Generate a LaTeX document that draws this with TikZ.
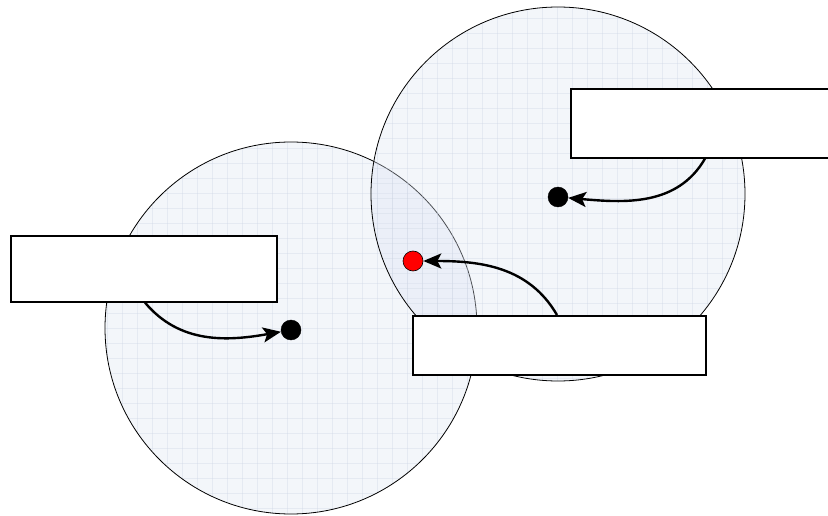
\documentclass[tikz,border=0pt]{standalone}
\usetikzlibrary{arrows.meta,calc}
\definecolor{discfill}{RGB}{220,228,242}
\definecolor{gridcol}{RGB}{200,208,225}
\tikzset{
  gridlines/.style={draw=gridcol, line width=0.5pt, opacity=0.3},
  labelbox/.style={draw=black, line width=1.6pt, fill=white, rectangle, inner sep=0pt},
  dot/.style={circle, fill=black, draw=black, minimum size=20pt, inner sep=0pt},
  reddot/.style={circle, fill=red, draw=black, line width=0.6pt, minimum size=20pt, inner sep=0pt},
  link/.style={line width=2.4pt, -{Stealth[length=18pt,width=15pt,inset=4pt]}}
}
\begin{document}
\begin{tikzpicture}[x=1pt,y=-1pt]
  \useasboundingbox (0,0) rectangle (828,516);
  \clip (0,0) rectangle (828,516);
  % left disc with its fine grid
  \begin{scope}
    \clip (291,328) circle (186);
    \fill[discfill, opacity=0.35] (291,328) circle (186);
    \foreach \gx in {92,107,...,482} \draw[gridlines] (\gx,130) -- (\gx,520);
    \foreach \gy in {133,148,...,518} \draw[gridlines] (100,\gy) -- (480,\gy);
  \end{scope}
  \draw[line width=0.8pt] (291,328) circle (186);
  % right disc, translucent over the left one
  \begin{scope}
    \clip (558,194) circle (187);
    \fill[discfill, opacity=0.35] (558,194) circle (187);
    \foreach \gx in {362,377,...,752} \draw[gridlines] (\gx,0) -- (\gx,390);
    \foreach \gy in {3,18,...,388} \draw[gridlines] (365,\gy) -- (750,\gy);
  \end{scope}
  \draw[line width=0.8pt] (558,194) circle (187);

  % points
  \node[dot] (p1) at (558,197) {};
  \node[dot] (p2) at (291,330) {};
  \node[reddot] (p3) at (413,261) {};

  % label boxes
  \node[labelbox, minimum width=264pt, minimum height=69pt, anchor=north west] (b1) at (570,88) {};
  \node[labelbox, minimum width=266pt, minimum height=66pt, anchor=north west] (b2) at (10,235) {};
  \node[labelbox, minimum width=293pt, minimum height=59pt, anchor=north west] (b3) at (412,315) {};

  % connectors
  \coordinate (s1) at ($(b1.south west)+(135,0)$);
  \coordinate (s2) at ($(b2.south west)+(135,0)$);
  \coordinate (s3) at ($(b3.north west)+(145,0)$);
  \draw[link] (s1) to[out=-120, in=-5] (p1);
  \draw[link] (s2) to[out=-50, in=190] (p2);
  \draw[link] (s3) to[out=120, in=0] (p3);
\end{tikzpicture}
\end{document}
